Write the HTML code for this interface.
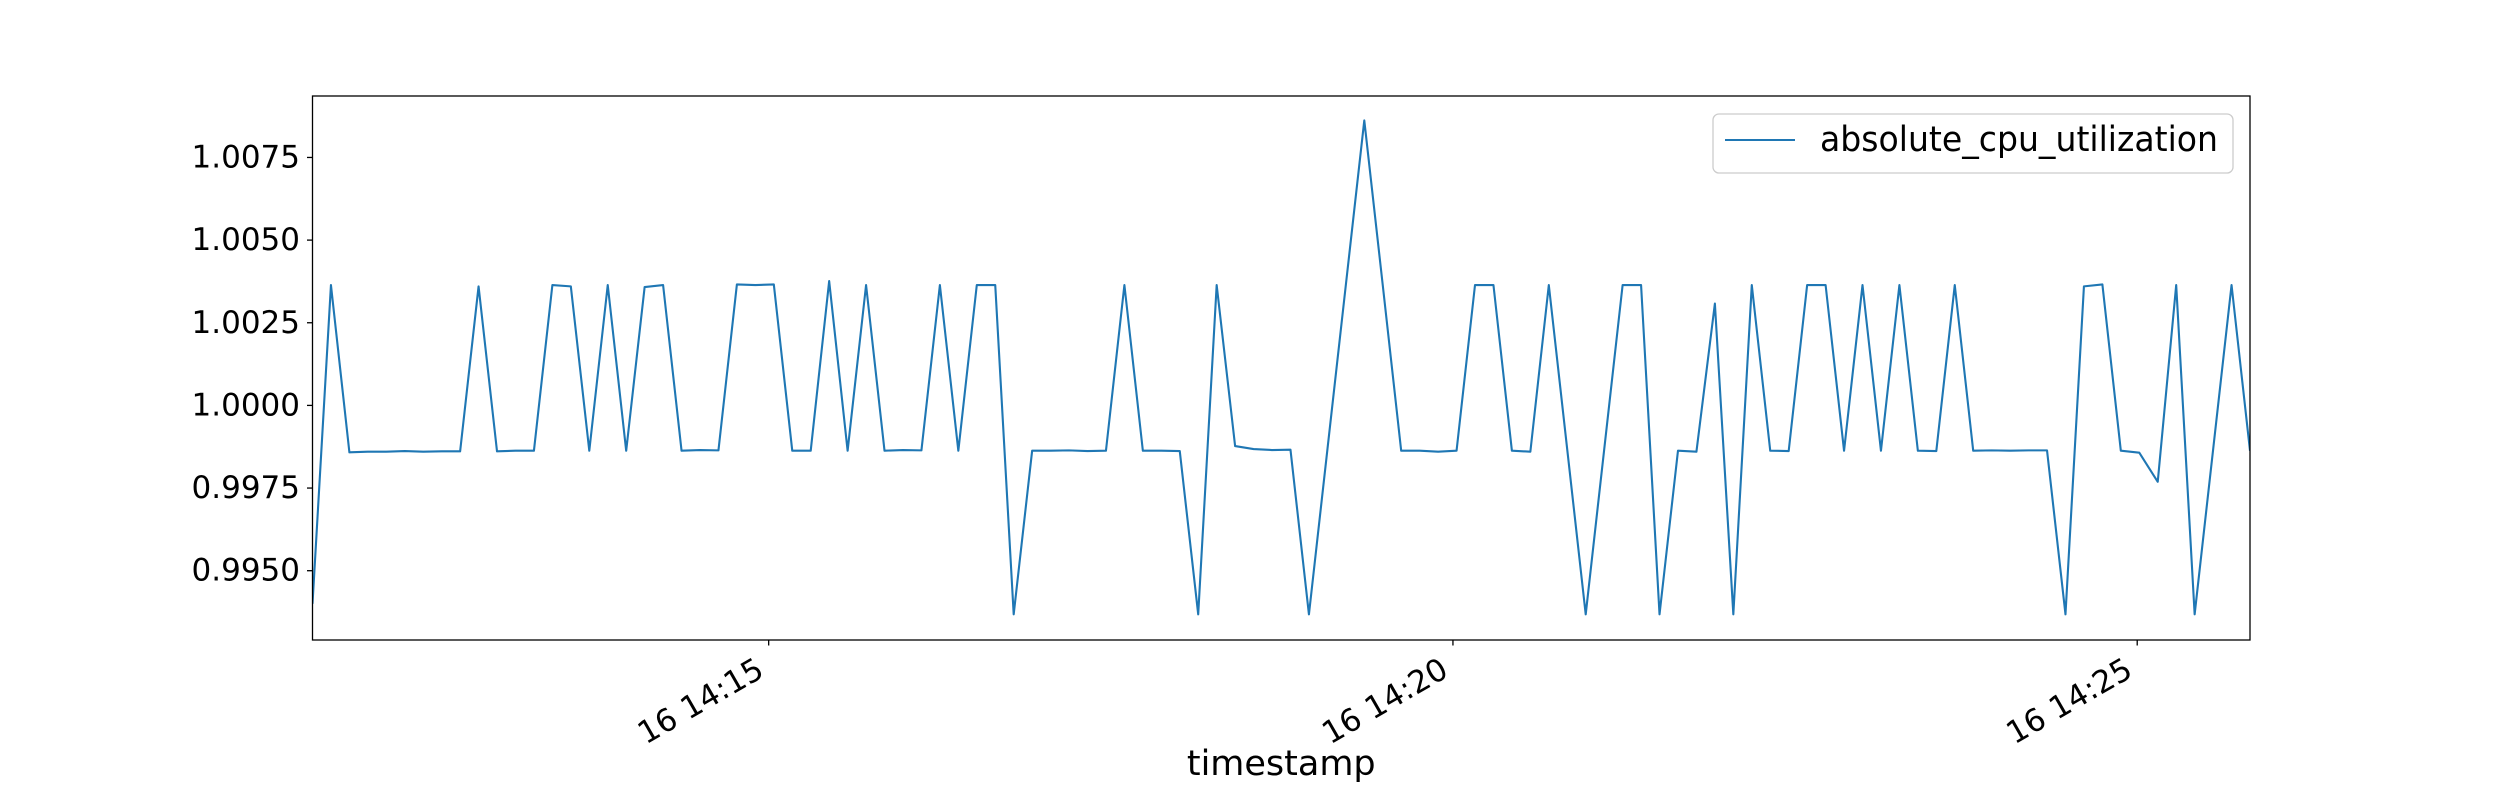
<!DOCTYPE html>
<html><head><meta charset="utf-8"><style>
html,body{margin:0;padding:0;background:#fff;}
svg{display:block;font-family:"DejaVu Sans","Liberation Sans",sans-serif;}
</style></head><body>
<svg id="chart" width="2500" height="800" viewBox="0 0 2500 800">
<rect x="0" y="0" width="2500" height="800" fill="#fff"/>
<g id="plot"></g>
</svg>
<script>
const values = [0.9940,1.00364,0.99858,0.99860,0.99860,0.99862,0.99860,0.99861,0.99861,1.00360,
0.99861,0.99863,0.99863,1.00364,1.00360,0.99863,1.00364,0.99863,1.00358,1.00364,
0.99863,0.99865,0.99864,1.00366,1.00364,1.00366,0.99863,0.99863,1.00376,0.99863,
1.00364,0.99863,0.99865,0.99864,1.00364,0.99863,1.00364,1.00364,0.99368,0.99863,
0.99863,0.99864,0.99862,0.99863,1.00364,0.99863,0.99863,0.99862,0.99368,1.00364,
0.99877,0.99868,0.99865,0.99866,0.99368,0.99866,1.00364,1.00862,1.00364,0.99863,
0.99863,0.99860,0.99863,1.00364,1.00364,0.99863,0.99860,1.00364,0.99866,0.99368,
0.99866,1.00364,1.00364,0.99368,0.99863,0.99860,1.00308,0.99368,1.00364,0.99863,
0.99862,1.00364,1.00364,0.99863,1.00364,0.99863,1.00364,0.99863,0.99862,1.00364,
0.99863,0.99864,0.99863,0.99864,0.99864,0.99368,1.00360,1.00366,0.99863,0.99857,
0.99769,1.00364,0.99368,0.99866,1.00364,0.99863];
const startSeconds = [700];        // 14:11:40 as seconds after 14:00
const stepSeconds = [8.09];
const yTicks = [0.9950,0.9975,1.0000,1.0025,1.0050,1.0075];
const yTickLabels = ["0.9950","0.9975","1.0000","1.0025","1.0050","1.0075"];
const xTicks = [900,1200,1500];
const xTickLabels = ["16 14:15","16 14:20","16 14:25"];
const seriesName = ["absolute_cpu_utilization"];

const NS="http://www.w3.org/2000/svg";
const L=312.5,R=2250,T=96,B=640;
const times = values.map((v,i)=>startSeconds[0]+i*stepSeconds[0]);
const xMin=times[0], xMax=times[times.length-1];
const yMin=0.992904, yMax=1.009359;
const xs=t=>L+(t-xMin)/(xMax-xMin)*(R-L);
const ys=v=>B-(v-yMin)/(yMax-yMin)*(B-T);
const g=document.getElementById('plot');
function mk(tag,attrs,parent){const e=document.createElementNS(NS,tag);for(const k in attrs)e.setAttribute(k,attrs[k]);(parent||g).appendChild(e);return e;}

const defs=mk('defs',{});
const cp=mk('clipPath',{id:'clip'},defs);
mk('rect',{x:L,y:T,width:R-L,height:B-T},cp);

const pts=values.map((v,i)=>xs(times[i]).toFixed(2)+','+ys(v).toFixed(2)).join(' ');
const line=mk('polyline',{points:pts,fill:'none',stroke:'#1f77b4','stroke-width':2.1,'stroke-linejoin':'round','clip-path':'url(#clip)'});



const frame=mk('rect',{x:L,y:T,width:R-L,height:B-T,fill:'none',stroke:'#000','stroke-width':1.3});



yTicks.forEach((v,i)=>{
  const y=ys(v);
  const t=mk('line',{x1:L-5.5,x2:L,y1:y,y2:y,stroke:'#000','stroke-width':1.3});
  
  
  const tx=mk('text',{x:300,y:y,'text-anchor':'end','dominant-baseline':'central','font-size':31,fill:'#000'});
  tx.textContent=yTickLabels[i];
  
  
});

xTicks.forEach((s,i)=>{
  const x=xs(s);
  const t=mk('line',{x1:x,x2:x,y1:B,y2:B+5.5,stroke:'#000','stroke-width':1.3});
  
  
  const ax=x-14, ay=B+16;
  const tx=mk('text',{x:ax,y:ay,'text-anchor':'end','dominant-baseline':'hanging','font-size':31,fill:'#000',transform:`rotate(-30 ${ax} ${ay})`});
  tx.textContent=xTickLabels[i];
  
  
});

const xt=mk('text',{x:(L+R)/2,y:775,'text-anchor':'middle','font-size':35,fill:'#000'});
xt.textContent='timestamp';



const lg=mk('g',{});


mk('rect',{x:1713,y:114,width:520,height:59,rx:6,fill:'#fff','fill-opacity':0.8,stroke:'#cccccc','stroke-width':1.3},lg);
const ls=mk('line',{x1:1725,x2:1795,y1:140,y2:140,stroke:'#1f77b4','stroke-width':2.1},lg);


const lt=mk('text',{x:1820,y:140,'dominant-baseline':'central','font-size':35,fill:'#000',textLength:398,lengthAdjust:'spacingAndGlyphs'},lg);
lt.textContent=seriesName[0];


</script>
</body></html>
